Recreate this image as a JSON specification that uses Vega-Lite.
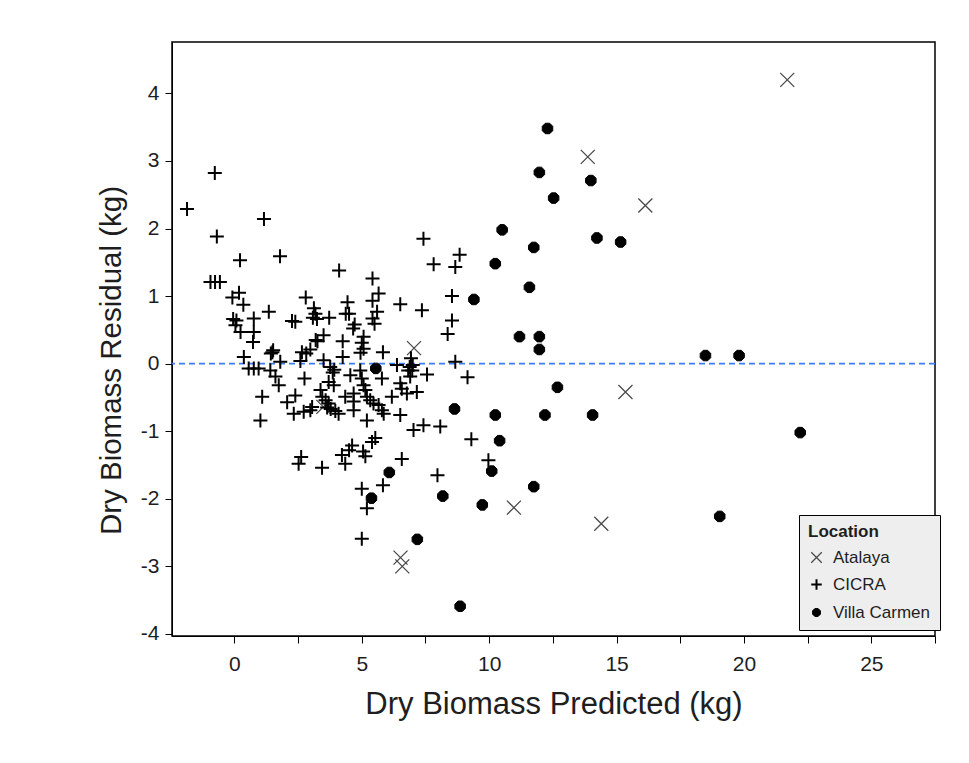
{
  "$schema": "https://vega.github.io/schema/vega-lite/v6.json",
  "width": 763,
  "height": 594,
  "autosize": {"type": "none"},
  "padding": {"left": 172, "top": 42, "right": 34, "bottom": 127},
  "background": "white",
  "config": {
    "font": "Liberation Sans",
    "view": {"stroke": "black", "strokeWidth": 1.5},
    "axis": {
      "grid": false,
      "domainColor": "black",
      "tickColor": "black",
      "tickSize": 7,
      "labelFontSize": 21,
      "labelColor": "#1e1e1e",
      "titleFontSize": 31,
      "titleFontWeight": "normal",
      "titleColor": "#1e1e1e",
      "labelOverlap": false,
      "labelFlush": false
    },
    "legend": {
      "orient": "none",
      "legendX": 627,
      "legendY": 473,
      "fillColor": "#eeeeee",
      "strokeColor": "black",
      "padding": 9,
      "titleFontSize": 17,
      "titleFontWeight": "bold",
      "titleColor": "#1e1e1e",
      "labelFontSize": 17,
      "labelColor": "#1e1e1e",
      "symbolSize": 110,
      "symbolStrokeWidth": 2.2,
      "rowPadding": 9,
      "titlePadding": 8,
      "labelOffset": 8
    }
  },
  "layer": [
    {
      "data": {"values": [{"v": 0}]},
      "mark": {"type": "rule", "color": "#3d7cf5", "strokeDash": [6, 4], "strokeWidth": 1.8},
      "encoding": {"y": {"field": "v", "type": "quantitative"}}
    },
    {
      "data": {
        "values": [
          {"pred": 21.70, "resid": 4.20, "Location": "Atalaya"},
          {"pred": 13.87, "resid": 3.06, "Location": "Atalaya"},
          {"pred": 16.13, "resid": 2.34, "Location": "Atalaya"},
          {"pred": 7.05, "resid": 0.23, "Location": "Atalaya"},
          {"pred": 15.35, "resid": -0.42, "Location": "Atalaya"},
          {"pred": 10.97, "resid": -2.13, "Location": "Atalaya"},
          {"pred": 14.40, "resid": -2.37, "Location": "Atalaya"},
          {"pred": 6.52, "resid": -2.87, "Location": "Atalaya"},
          {"pred": 6.59, "resid": -3.00, "Location": "Atalaya"},
          {"pred": 3.49, "resid": -0.64, "Location": "Atalaya"},

          {"pred": 12.29, "resid": 3.48, "Location": "Villa Carmen"},
          {"pred": 11.97, "resid": 2.83, "Location": "Villa Carmen"},
          {"pred": 13.99, "resid": 2.71, "Location": "Villa Carmen"},
          {"pred": 12.53, "resid": 2.45, "Location": "Villa Carmen"},
          {"pred": 10.51, "resid": 1.98, "Location": "Villa Carmen"},
          {"pred": 14.23, "resid": 1.86, "Location": "Villa Carmen"},
          {"pred": 15.16, "resid": 1.80, "Location": "Villa Carmen"},
          {"pred": 11.75, "resid": 1.72, "Location": "Villa Carmen"},
          {"pred": 10.24, "resid": 1.48, "Location": "Villa Carmen"},
          {"pred": 11.58, "resid": 1.13, "Location": "Villa Carmen"},
          {"pred": 9.40, "resid": 0.95, "Location": "Villa Carmen"},
          {"pred": 11.19, "resid": 0.40, "Location": "Villa Carmen"},
          {"pred": 11.97, "resid": 0.40, "Location": "Villa Carmen"},
          {"pred": 11.97, "resid": 0.21, "Location": "Villa Carmen"},
          {"pred": 18.49, "resid": 0.12, "Location": "Villa Carmen"},
          {"pred": 19.81, "resid": 0.12, "Location": "Villa Carmen"},
          {"pred": 5.55, "resid": -0.07, "Location": "Villa Carmen"},
          {"pred": 12.68, "resid": -0.35, "Location": "Villa Carmen"},
          {"pred": 8.64, "resid": -0.67, "Location": "Villa Carmen"},
          {"pred": 10.24, "resid": -0.76, "Location": "Villa Carmen"},
          {"pred": 12.19, "resid": -0.76, "Location": "Villa Carmen"},
          {"pred": 14.06, "resid": -0.76, "Location": "Villa Carmen"},
          {"pred": 10.41, "resid": -1.14, "Location": "Villa Carmen"},
          {"pred": 22.21, "resid": -1.02, "Location": "Villa Carmen"},
          {"pred": 10.10, "resid": -1.59, "Location": "Villa Carmen"},
          {"pred": 6.08, "resid": -1.61, "Location": "Villa Carmen"},
          {"pred": 11.75, "resid": -1.82, "Location": "Villa Carmen"},
          {"pred": 5.38, "resid": -1.99, "Location": "Villa Carmen"},
          {"pred": 8.18, "resid": -1.96, "Location": "Villa Carmen"},
          {"pred": 9.73, "resid": -2.09, "Location": "Villa Carmen"},
          {"pred": 19.05, "resid": -2.26, "Location": "Villa Carmen"},
          {"pred": 7.18, "resid": -2.60, "Location": "Villa Carmen"},
          {"pred": 8.86, "resid": -3.59, "Location": "Villa Carmen"},

          {"pred": -1.86, "resid": 2.29, "Location": "CICRA"},
          {"pred": -0.77, "resid": 2.82, "Location": "CICRA"},
          {"pred": -0.69, "resid": 1.88, "Location": "CICRA"},
          {"pred": 1.16, "resid": 2.14, "Location": "CICRA"},
          {"pred": -0.94, "resid": 1.21, "Location": "CICRA"},
          {"pred": -0.76, "resid": 1.21, "Location": "CICRA"},
          {"pred": -0.57, "resid": 1.21, "Location": "CICRA"},
          {"pred": 0.22, "resid": 1.53, "Location": "CICRA"},
          {"pred": 1.79, "resid": 1.59, "Location": "CICRA"},
          {"pred": 4.11, "resid": 1.38, "Location": "CICRA"},
          {"pred": 5.42, "resid": 1.26, "Location": "CICRA"},
          {"pred": 7.42, "resid": 1.85, "Location": "CICRA"},
          {"pred": 7.82, "resid": 1.47, "Location": "CICRA"},
          {"pred": 8.67, "resid": 1.43, "Location": "CICRA"},
          {"pred": 8.84, "resid": 1.61, "Location": "CICRA"},
          {"pred": -0.08, "resid": 0.98, "Location": "CICRA"},
          {"pred": 0.18, "resid": 1.05, "Location": "CICRA"},
          {"pred": 0.35, "resid": 0.87, "Location": "CICRA"},
          {"pred": -0.05, "resid": 0.66, "Location": "CICRA"},
          {"pred": 0.08, "resid": 0.64, "Location": "CICRA"},
          {"pred": 0.04, "resid": 0.57, "Location": "CICRA"},
          {"pred": 0.24, "resid": 0.47, "Location": "CICRA"},
          {"pred": 0.76, "resid": 0.67, "Location": "CICRA"},
          {"pred": 0.76, "resid": 0.47, "Location": "CICRA"},
          {"pred": 0.73, "resid": 0.32, "Location": "CICRA"},
          {"pred": 1.35, "resid": 0.77, "Location": "CICRA"},
          {"pred": 2.80, "resid": 0.98, "Location": "CICRA"},
          {"pred": 2.26, "resid": 0.63, "Location": "CICRA"},
          {"pred": 2.39, "resid": 0.62, "Location": "CICRA"},
          {"pred": 3.12, "resid": 0.82, "Location": "CICRA"},
          {"pred": 3.18, "resid": 0.74, "Location": "CICRA"},
          {"pred": 3.08, "resid": 0.68, "Location": "CICRA"},
          {"pred": 3.24, "resid": 0.66, "Location": "CICRA"},
          {"pred": 3.72, "resid": 0.68, "Location": "CICRA"},
          {"pred": 3.50, "resid": 0.42, "Location": "CICRA"},
          {"pred": 3.26, "resid": 0.33, "Location": "CICRA"},
          {"pred": 4.44, "resid": 0.91, "Location": "CICRA"},
          {"pred": 4.50, "resid": 0.74, "Location": "CICRA"},
          {"pred": 4.72, "resid": 0.58, "Location": "CICRA"},
          {"pred": 4.66, "resid": 0.52, "Location": "CICRA"},
          {"pred": 5.66, "resid": 1.04, "Location": "CICRA"},
          {"pred": 5.42, "resid": 0.93, "Location": "CICRA"},
          {"pred": 5.60, "resid": 0.77, "Location": "CICRA"},
          {"pred": 5.42, "resid": 0.67, "Location": "CICRA"},
          {"pred": 5.50, "resid": 0.59, "Location": "CICRA"},
          {"pred": 6.51, "resid": 0.88, "Location": "CICRA"},
          {"pred": 7.36, "resid": 0.79, "Location": "CICRA"},
          {"pred": 8.54, "resid": 1.00, "Location": "CICRA"},
          {"pred": 8.54, "resid": 0.64, "Location": "CICRA"},
          {"pred": 8.37, "resid": 0.44, "Location": "CICRA"},
          {"pred": 5.07, "resid": 0.40, "Location": "CICRA"},
          {"pred": 5.00, "resid": 0.31, "Location": "CICRA"},
          {"pred": 5.07, "resid": 0.22, "Location": "CICRA"},
          {"pred": 4.95, "resid": 0.16, "Location": "CICRA"},
          {"pred": 4.25, "resid": 0.33, "Location": "CICRA"},
          {"pred": 4.25, "resid": 0.10, "Location": "CICRA"},
          {"pred": 0.37, "resid": 0.10, "Location": "CICRA"},
          {"pred": 0.56, "resid": -0.07, "Location": "CICRA"},
          {"pred": 0.76, "resid": -0.07, "Location": "CICRA"},
          {"pred": 0.95, "resid": -0.07, "Location": "CICRA"},
          {"pred": 1.52, "resid": 0.20, "Location": "CICRA"},
          {"pred": 1.43, "resid": 0.15, "Location": "CICRA"},
          {"pred": 1.41, "resid": -0.10, "Location": "CICRA"},
          {"pred": 1.61, "resid": -0.19, "Location": "CICRA"},
          {"pred": 1.74, "resid": -0.32, "Location": "CICRA"},
          {"pred": 1.80, "resid": 0.03, "Location": "CICRA"},
          {"pred": 2.59, "resid": 0.04, "Location": "CICRA"},
          {"pred": 2.65, "resid": 0.17, "Location": "CICRA"},
          {"pred": 2.82, "resid": 0.15, "Location": "CICRA"},
          {"pred": 2.98, "resid": 0.21, "Location": "CICRA"},
          {"pred": 3.50, "resid": 0.05, "Location": "CICRA"},
          {"pred": 3.76, "resid": -0.05, "Location": "CICRA"},
          {"pred": 3.92, "resid": -0.09, "Location": "CICRA"},
          {"pred": 3.86, "resid": -0.13, "Location": "CICRA"},
          {"pred": 2.75, "resid": -0.22, "Location": "CICRA"},
          {"pred": 5.83, "resid": 0.17, "Location": "CICRA"},
          {"pred": 6.38, "resid": -0.02, "Location": "CICRA"},
          {"pred": 6.93, "resid": 0.08, "Location": "CICRA"},
          {"pred": 7.00, "resid": -0.02, "Location": "CICRA"},
          {"pred": 6.88, "resid": -0.05, "Location": "CICRA"},
          {"pred": 6.82, "resid": -0.10, "Location": "CICRA"},
          {"pred": 6.98, "resid": -0.10, "Location": "CICRA"},
          {"pred": 6.90, "resid": -0.19, "Location": "CICRA"},
          {"pred": 8.67, "resid": 0.03, "Location": "CICRA"},
          {"pred": 7.56, "resid": -0.16, "Location": "CICRA"},
          {"pred": 9.15, "resid": -0.20, "Location": "CICRA"},
          {"pred": 4.55, "resid": -0.17, "Location": "CICRA"},
          {"pred": 4.94, "resid": -0.10, "Location": "CICRA"},
          {"pred": 5.00, "resid": -0.22, "Location": "CICRA"},
          {"pred": 5.07, "resid": -0.32, "Location": "CICRA"},
          {"pred": 5.14, "resid": -0.39, "Location": "CICRA"},
          {"pred": 5.20, "resid": -0.49, "Location": "CICRA"},
          {"pred": 5.33, "resid": -0.54, "Location": "CICRA"},
          {"pred": 5.46, "resid": -0.59, "Location": "CICRA"},
          {"pred": 5.66, "resid": -0.61, "Location": "CICRA"},
          {"pred": 5.79, "resid": -0.69, "Location": "CICRA"},
          {"pred": 5.86, "resid": -0.74, "Location": "CICRA"},
          {"pred": 5.79, "resid": -0.22, "Location": "CICRA"},
          {"pred": 6.51, "resid": -0.29, "Location": "CICRA"},
          {"pred": 6.57, "resid": -0.37, "Location": "CICRA"},
          {"pred": 6.77, "resid": -0.44, "Location": "CICRA"},
          {"pred": 7.16, "resid": -0.42, "Location": "CICRA"},
          {"pred": 6.18, "resid": -0.49, "Location": "CICRA"},
          {"pred": 6.51, "resid": -0.76, "Location": "CICRA"},
          {"pred": 1.09, "resid": -0.49, "Location": "CICRA"},
          {"pred": 1.02, "resid": -0.84, "Location": "CICRA"},
          {"pred": 2.07, "resid": -0.57, "Location": "CICRA"},
          {"pred": 2.39, "resid": -0.47, "Location": "CICRA"},
          {"pred": 2.33, "resid": -0.74, "Location": "CICRA"},
          {"pred": 3.70, "resid": -0.27, "Location": "CICRA"},
          {"pred": 3.90, "resid": -0.32, "Location": "CICRA"},
          {"pred": 3.38, "resid": -0.39, "Location": "CICRA"},
          {"pred": 3.45, "resid": -0.49, "Location": "CICRA"},
          {"pred": 3.58, "resid": -0.54, "Location": "CICRA"},
          {"pred": 3.70, "resid": -0.59, "Location": "CICRA"},
          {"pred": 3.64, "resid": -0.65, "Location": "CICRA"},
          {"pred": 3.78, "resid": -0.67, "Location": "CICRA"},
          {"pred": 3.96, "resid": -0.70, "Location": "CICRA"},
          {"pred": 4.09, "resid": -0.74, "Location": "CICRA"},
          {"pred": 2.98, "resid": -0.69, "Location": "CICRA"},
          {"pred": 3.05, "resid": -0.64, "Location": "CICRA"},
          {"pred": 2.72, "resid": -0.71, "Location": "CICRA"},
          {"pred": 4.68, "resid": -0.44, "Location": "CICRA"},
          {"pred": 4.68, "resid": -0.56, "Location": "CICRA"},
          {"pred": 4.35, "resid": -0.49, "Location": "CICRA"},
          {"pred": 4.68, "resid": -0.69, "Location": "CICRA"},
          {"pred": 5.20, "resid": -0.84, "Location": "CICRA"},
          {"pred": 7.03, "resid": -0.98, "Location": "CICRA"},
          {"pred": 7.42, "resid": -0.91, "Location": "CICRA"},
          {"pred": 8.08, "resid": -0.93, "Location": "CICRA"},
          {"pred": 9.30, "resid": -1.12, "Location": "CICRA"},
          {"pred": 2.62, "resid": -1.38, "Location": "CICRA"},
          {"pred": 2.52, "resid": -1.48, "Location": "CICRA"},
          {"pred": 3.44, "resid": -1.54, "Location": "CICRA"},
          {"pred": 4.22, "resid": -1.35, "Location": "CICRA"},
          {"pred": 4.35, "resid": -1.48, "Location": "CICRA"},
          {"pred": 4.62, "resid": -1.21, "Location": "CICRA"},
          {"pred": 4.50, "resid": -1.28, "Location": "CICRA"},
          {"pred": 5.14, "resid": -1.37, "Location": "CICRA"},
          {"pred": 5.05, "resid": -1.30, "Location": "CICRA"},
          {"pred": 5.40, "resid": -1.16, "Location": "CICRA"},
          {"pred": 5.53, "resid": -1.10, "Location": "CICRA"},
          {"pred": 5.00, "resid": -1.85, "Location": "CICRA"},
          {"pred": 5.20, "resid": -2.14, "Location": "CICRA"},
          {"pred": 5.00, "resid": -2.59, "Location": "CICRA"},
          {"pred": 5.83, "resid": -1.80, "Location": "CICRA"},
          {"pred": 6.57, "resid": -1.41, "Location": "CICRA"},
          {"pred": 7.97, "resid": -1.65, "Location": "CICRA"},
          {"pred": 9.97, "resid": -1.43, "Location": "CICRA"},
          {"pred": 1.49, "resid": 0.17, "Location": "CICRA"},
          {"pred": 3.19, "resid": 0.35, "Location": "CICRA"},
          {"pred": 4.37, "resid": 0.74, "Location": "CICRA"}
        ]
      },
      "mark": {"type": "point", "size": 196, "opacity": 1, "filled": true},
      "encoding": {
        "x": {
          "field": "pred",
          "type": "quantitative",
          "scale": {"domain": [-2.45, 27.5], "nice": false, "zero": false},
          "axis": {
            "title": "Dry Biomass Predicted (kg)",
            "values": [0, 2.5, 5, 7.5, 10, 12.5, 15, 17.5, 20, 22.5, 25, 27.5],
            "labelExpr": "datum.value % 5 === 0 ? '' + datum.value : ''",
            "labelPadding": 10,
            "titlePadding": 15
          }
        },
        "y": {
          "field": "resid",
          "type": "quantitative",
          "scale": {"domain": [-4.03, 4.76], "nice": false, "zero": false},
          "axis": {
            "title": "Dry Biomass Residual (kg)",
            "values": [-4, -3.5, -3, -2.5, -2, -1.5, -1, -0.5, 0, 0.5, 1, 1.5, 2, 2.5, 3, 3.5, 4, 4.5],
            "labelExpr": "datum.value % 1 === 0 ? '' + datum.value : ''",
            "labelPadding": 6,
            "titlePadding": 14,
            "titleFontSize": 29.5,
            "titleY": 318
          }
        },
        "shape": {
          "field": "Location",
          "type": "nominal",
          "scale": {
            "domain": ["Atalaya", "CICRA", "Villa Carmen"],
            "range": [
              "M-1,-1L1,1M-1,1L1,-1",
              "M-1,0L1,0M0,-1L0,1",
              "M0.75,0.31L0.31,0.75L-0.31,0.75L-0.75,0.31L-0.75,-0.31L-0.31,-0.75L0.31,-0.75L0.75,-0.31Z"
            ]
          },
          "legend": {"title": "Location"}
        },
        "fill": {
          "field": "Location",
          "type": "nominal",
          "scale": {"domain": ["Atalaya", "CICRA", "Villa Carmen"], "range": ["transparent", "transparent", "black"]},
          "legend": {"title": "Location"}
        },
        "stroke": {
          "field": "Location",
          "type": "nominal",
          "scale": {"domain": ["Atalaya", "CICRA", "Villa Carmen"], "range": ["#4a4a4a", "black", "black"]},
          "legend": {"title": "Location"}
        },
        "strokeWidth": {
          "field": "Location",
          "type": "nominal",
          "scale": {"type": "ordinal", "domain": ["Atalaya", "CICRA", "Villa Carmen"], "range": [1.3, 2, 1]},
          "legend": null
        }
      }
    }
  ]
}
